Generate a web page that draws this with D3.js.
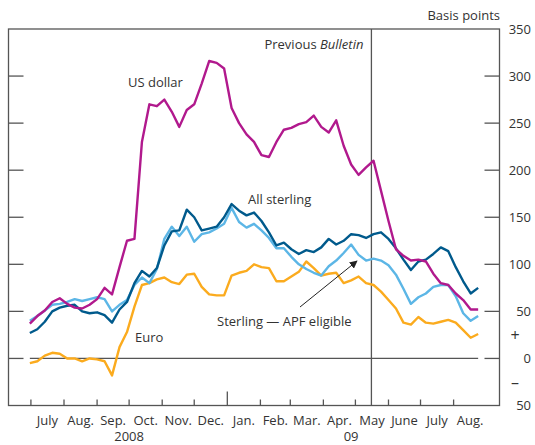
<!DOCTYPE html>
<html>
<head>
<meta charset="utf-8">
<script src="https://cdn.jsdelivr.net/npm/d3@7"></script>
<style>
  body { margin: 0; background: #fff; }
  svg { display: block; font-family: "Open Sans", sans-serif; }
  text { fill: #333; font-size: 13px; }
</style>
</head>
<body>
<svg width="535" height="445"></svg>
<script>
// weekly observations (Mondays), basis points
const dates = [
  '2008-06-30','2008-07-07','2008-07-14','2008-07-21','2008-07-28','2008-08-04','2008-08-11','2008-08-18','2008-08-25',
  '2008-09-01','2008-09-08','2008-09-15','2008-09-22','2008-09-29','2008-10-06','2008-10-13','2008-10-20','2008-10-27',
  '2008-11-03','2008-11-10','2008-11-17','2008-11-24','2008-12-01','2008-12-08','2008-12-15','2008-12-22','2008-12-29',
  '2009-01-05','2009-01-12','2009-01-19','2009-01-26','2009-02-02','2009-02-09','2009-02-16','2009-02-23',
  '2009-03-02','2009-03-09','2009-03-16','2009-03-23','2009-03-30','2009-04-06','2009-04-13','2009-04-20','2009-04-27',
  '2009-05-04','2009-05-11','2009-05-18','2009-05-25','2009-06-01','2009-06-08','2009-06-15','2009-06-22','2009-06-29',
  '2009-07-06','2009-07-13','2009-07-20','2009-07-27','2009-08-03','2009-08-10','2009-08-17','2009-08-24'
];

const usDollar = [37,45,51,60,64,58,54,53,57,63, 75,68,97,125,127,230,270,268,275,262,
  246,264,270,292,316,314,308,266,250,238, 230,216,214,230,243,245,249,251,258,246,
  240,253,226,206,195,203,210,178,146,116, 109,104,105,103,90,80,78,69,62,52, 52];

const allSterling = [27,31,39,50,54,56,57,50,48,49, 46,38,52,60,80,93,87,96,120,135,
  136,158,150,136,138,140,150,164,157,152, 155,146,134,120,123,116,111,115,113,118,
  127,121,125,132,131,128,132,134,127,117, 105,94,103,105,111,118,114,97,82,69, 75];

const apfEligible = [40,45,51,57,58,60,63,61,63,65, 63,50,57,62,78,86,80,95,127,140,
  130,140,124,132,134,138,143,160,145,139, 143,136,128,117,117,108,100,95,91,88,
  98,104,112,121,110,104,106,104,99,89, 74,58,65,69,76,78,78,66,48,40, 45];

const euro = [-5,-3,3,6,5,0,0,-3,0,-1, -3,-18,12,28,55,78,80,84,86,81,
  79,89,90,76,68,67,67,88,91,93, 100,97,96,82,82,87,92,103,96,88,
  90,91,80,83,87,80,78,71,62,53, 38,36,44,38,37,39,41,38,30,22, 26];

const yTicks = [350, 300, 250, 200, 150, 100, 50, 0, -50];
const yTickLabels = ['350', '300', '250', '200', '150', '100', '50', '0', '50'];
const monthLabels = ['July','Aug.','Sep.','Oct.','Nov.','Dec.','Jan.','Feb.','Mar.','Apr.','May','June','July','Aug.'];
const yearLabels = ['2008', '09'];
const yearLabelDates = ['2008-10-01', '2009-04-27'];
const bulletinDate = '2009-05-16';

const parse = d3.timeParse('%Y-%m-%d');
const when = dates.map(parse);

const svg = d3.select('svg');
const plotLeft = 8.5, plotRight = 499.5, plotTop = 29, plotBottom = 405.5;
const frameColor = '#555';

const x = d3.scaleTime()
  .domain([parse('2008-06-10'), parse('2009-09-13')])
  .range([plotLeft, plotRight]);

const y = d3.scaleLinear()
  .domain([-50, 350])
  .range([plotBottom, plotTop]);

// frame
svg.append('rect')
  .attr('x', plotLeft).attr('y', plotTop)
  .attr('width', plotRight - plotLeft).attr('height', plotBottom - plotTop)
  .attr('fill', 'none')
  .attr('stroke', frameColor)
  .attr('stroke-width', 1.3);

// y ticks both sides + labels on the right
yTicks.forEach((v, i) => {
  if (v !== 350 && v !== -50) {
    svg.append('line')
      .attr('x1', plotLeft).attr('x2', plotLeft + 15)
      .attr('y1', y(v)).attr('y2', y(v))
      .attr('stroke', frameColor).attr('stroke-width', 1.3);
    svg.append('line')
      .attr('x1', plotRight - 15).attr('x2', plotRight)
      .attr('y1', y(v)).attr('y2', y(v))
      .attr('stroke', frameColor).attr('stroke-width', 1.3);
  }
  svg.append('text')
    .attr('x', 531)
    .attr('y', y(v))
    .attr('dy', '0.36em')
    .attr('text-anchor', 'end')
    .text(yTickLabels[i]);
});

svg.append('text').attr('x', 515).attr('y', y(25)).attr('dy', '0.36em')
  .attr('text-anchor', 'middle').style('font-size', '16px').text('+');
svg.append('text').attr('x', 515).attr('y', y(-25)).attr('dy', '0.36em')
  .attr('text-anchor', 'middle').style('font-size', '16px').text('\u2013');

svg.append('text')
  .attr('x', 500).attr('y', 20)
  .attr('text-anchor', 'end')
  .text('Basis points');

// zero line across the data span
svg.append('line')
  .attr('x1', x(when[0])).attr('x2', x(when[when.length - 1]))
  .attr('y1', y(0)).attr('y2', y(0))
  .attr('stroke', frameColor).attr('stroke-width', 1.3);

// month ticks and labels
const months = d3.timeMonth.range(parse('2008-07-01'), parse('2009-09-01'));
months.forEach((m, i) => {
  const isYear = m.getMonth() === 0;
  svg.append('line')
    .attr('x1', x(m)).attr('x2', x(m))
    .attr('y1', plotBottom).attr('y2', plotBottom - (isYear ? 14 : 6))
    .attr('stroke', frameColor).attr('stroke-width', 1.3);
  const next = d3.timeMonth.offset(m, 1);
  svg.append('text')
    .attr('x', (x(m) + x(next)) / 2)
    .attr('y', 425)
    .attr('text-anchor', 'middle')
    .text(monthLabels[i]);
});

yearLabels.forEach((t, i) => {
  svg.append('text')
    .attr('x', x(parse(yearLabelDates[i])))
    .attr('y', 441)
    .attr('text-anchor', 'middle')
    .text(t);
});

// previous Bulletin marker
const bx = x(parse(bulletinDate));
svg.append('line')
  .attr('x1', bx).attr('x2', bx)
  .attr('y1', plotTop).attr('y2', plotBottom)
  .attr('stroke', frameColor).attr('stroke-width', 1.3);

const prev = svg.append('text')
  .attr('x', bx - 8).attr('y', 49)
  .attr('text-anchor', 'end');
prev.append('tspan').text('Previous ');
prev.append('tspan').attr('font-style', 'italic').text('Bulletin');

// series
const line = d3.line()
  .x((d, i) => x(when[i]))
  .y(d => y(d));

const series = [
  { values: euro, color: '#fbab1e' },
  { values: apfEligible, color: '#5cb6e6' },
  { values: allSterling, color: '#005a8c' },
  { values: usDollar, color: '#b1198d' }
];

series.forEach(s => {
  svg.append('path')
    .datum(s.values)
    .attr('d', line)
    .attr('fill', 'none')
    .attr('stroke', s.color)
    .attr('stroke-width', 2.4)
    .attr('stroke-linejoin', 'round');
});

// labels
svg.append('text').attr('x', 128).attr('y', 87).text('US dollar');
svg.append('text').attr('x', 248).attr('y', 204).text('All sterling');
svg.append('text').attr('x', 135).attr('y', 342).text('Euro');
svg.append('text').attr('x', 217).attr('y', 326).text('Sterling \u2014 APF eligible');

svg.append('defs').append('marker')
  .attr('id', 'arrow')
  .attr('viewBox', '0 0 10 10')
  .attr('refX', 9).attr('refY', 5)
  .attr('markerWidth', 8).attr('markerHeight', 8)
  .attr('markerUnits', 'userSpaceOnUse')
  .attr('orient', 'auto')
  .append('path')
  .attr('d', 'M0,0 L10,5 L0,10 z')
  .attr('fill', '#222');

svg.append('line')
  .attr('x1', 300).attr('y1', 307)
  .attr('x2', 357).attr('y2', 261)
  .attr('stroke', '#222')
  .attr('stroke-width', 1)
  .attr('marker-end', 'url(#arrow)');
</script>
</body>
</html>
